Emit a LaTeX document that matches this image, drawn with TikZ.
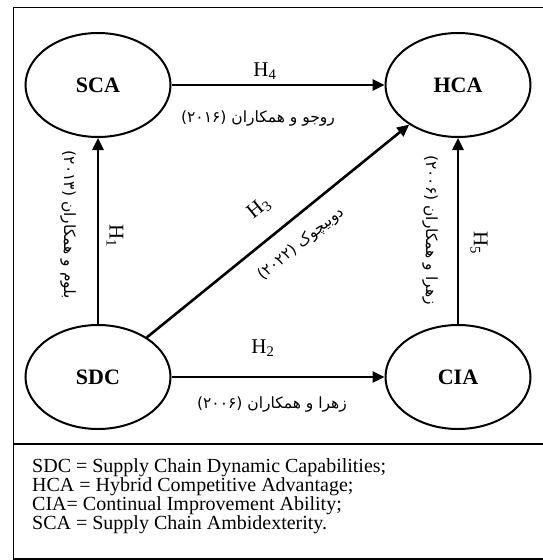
\documentclass[tikz,border=0pt]{standalone}
\usepackage{fontspec}
\setmainfont{Liberation Serif}
\newfontfamily\arabicfont[Script=Arabic]{DejaVu Sans}
\TeXXeTstate=1
\usetikzlibrary{shapes.geometric,arrows.meta}
\begin{document}
\begin{tikzpicture}[x=1pt,y=-1pt,
  ell/.style={draw, line width=2pt, ellipse, minimum width=145pt, minimum height=104pt, inner sep=0pt, font=\fontsize{22}{26}\selectfont\bfseries},
  arr/.style={line width=2.6pt, -{Triangle[length=12pt,width=11pt]}},
  hlab/.style={font=\fontsize{21}{24}\selectfont, inner sep=0pt},
  plab/.style={font=\arabicfont\fontsize{15.5}{18}\selectfont, inner sep=0pt},
  frameline/.style={line width=1.5pt}]
\useasboundingbox (0,0) rectangle (543,560);
\draw[frameline] (545,7.5) -- (13.5,7.5) -- (13.5,559) -- (545,559);
\draw[frameline] (13.5,444) -- (545,444);

\node[ell] (SCA) at (98,85) {SCA};
\node[ell] (HCA) at (458,85) {HCA};
\node[ell] (SDC) at (98,377) {SDC};
\node[ell] (CIA) at (458,377) {CIA};

\draw[arr] (SCA) -- (HCA);
\draw[arr] (SDC) -- (SCA);
\draw[arr] (CIA) -- (HCA);
\draw[arr] (SDC) -- (CIA);
\draw[arr] (SDC) -- (HCA);

\node[hlab] (h4) at (265,71) {H\textsubscript{4}};
\node[hlab] (h2) at (263,348) {H\textsubscript{2}};
\node[hlab, rotate=-90] (h1) at (115,236) {H\textsubscript{1}};
\node[hlab, rotate=-90] (h5) at (479,243) {H\textsubscript{5}};
\node[hlab, rotate=39.1] (h3) at (259,208) {H\textsubscript{3}};

\node[plab] (p4) at (258,119) {\beginR روجو و همکاران \beginL(۲۰۱۶)\endL\endR};
\node[plab] (p2) at (272,404) {\beginR زهرا و همکاران \beginL(۲۰۰۶)\endL\endR};
\node[plab, rotate=-90] (p1) at (68,225) {\beginR بلوم و همکاران \beginL(۲۰۱۳)\endL\endR};
\node[plab, rotate=-90] (p5) at (430,230) {\beginR زهرا و همکاران \beginL(۲۰۰۶)\endL\endR};
\node[plab, rotate=39.1] (p3) at (301,244) {\beginR دوبیچوک \beginL(۲۰۲۲)\endL\endR};

\node[anchor=north west, align=left, inner sep=0pt, font=\fontsize{20}{19}\selectfont] (legend) at (32,458.5)
  {SDC = Supply Chain Dynamic Capabilities;\\
   HCA = Hybrid Competitive Advantage;\\
   CIA= Continual Improvement Ability;\\
   SCA = Supply Chain Ambidexterity.};
\end{tikzpicture}
\end{document}
